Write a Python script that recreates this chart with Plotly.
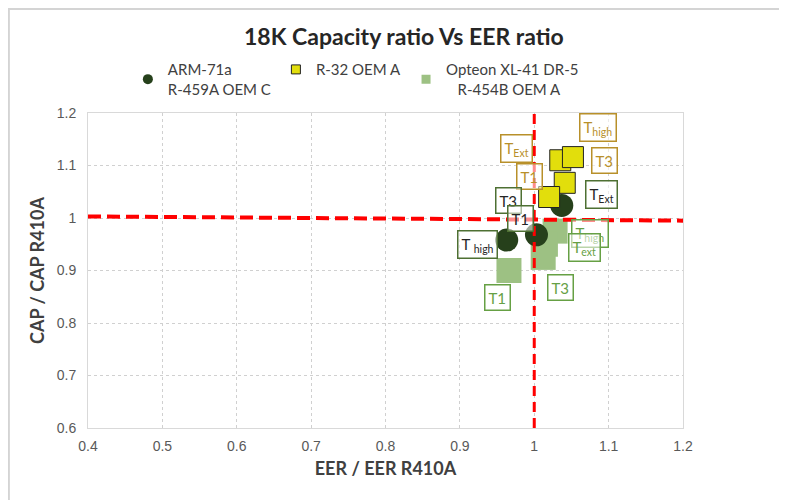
import plotly.graph_objects as go

# ARM-71a / R-459A OEM C
arm_x = [0.963, 1.003, 1.037]
arm_y = [0.958, 0.968, 1.024]

# R-32 OEM A
r32_x = [1.035, 1.052, 1.041, 1.020]
r32_y = [1.110, 1.116, 1.067, 1.040]

# Opteon XL-41 DR-5 / R-454B OEM A
xl41_x = [1.028, 1.015, 1.012, 0.966]
xl41_y = [0.975, 0.950, 0.925, 0.900]

# point labels (text, x, y)
r32_lbl = ["T<sub>high</sub>", "T<sub>Ext</sub>", "T3", "T1"]
r32_lbl_x = [1.086, 0.976, 1.094, 0.994]
r32_lbl_y = [1.173, 1.133, 1.110, 1.080]

arm_lbl = ["T3", "T1", "T <sub>high</sub>", "T<sub>Ext</sub>"]
arm_lbl_x = [0.965, 0.981, 0.924, 1.091]
arm_lbl_y = [1.034, 1.000, 0.950, 1.044]

xl41_lbl = ["T<sub>high</sub>", "T<sub>ext</sub>", "T3", "T1"]
xl41_lbl_x = [1.075, 1.068, 1.035, 0.950]
xl41_lbl_y = [0.971, 0.943, 0.867, 0.848]

# reference lines
href_x = [0.4, 1.2]
href_y = [1.003, 0.995]
vref_x = [1.0, 1.0]
vref_y = [0.6, 1.2]

x_ticks = [0.4, 0.5, 0.6, 0.7, 0.8, 0.9, 1.0, 1.1, 1.2]
y_ticks = [0.6, 0.7, 0.8, 0.9, 1.0, 1.1, 1.2]

dark_green = "#26401B"
yellow = "#E2DE0C"
light_green = "#9DC183"
gold = "#B8902A"
mid_green = "#4E7033"
soft_green = "#66A044"

fig = go.Figure()

fig.add_trace(go.Scatter(
    x=xl41_x, y=xl41_y, mode="markers", showlegend=False,
    marker=dict(symbol="square", size=25, color=light_green, line=dict(width=0)),
))
fig.add_trace(go.Scatter(
    x=arm_x, y=arm_y, mode="markers", showlegend=False,
    marker=dict(symbol="circle", size=23, color=dark_green, line=dict(width=0)),
))
fig.add_trace(go.Scatter(
    x=r32_x, y=r32_y, mode="markers", showlegend=False,
    marker=dict(symbol="square", size=21, color=yellow, line=dict(color="#222222", width=1)),
))

# red reference lines
fig.add_trace(go.Scatter(
    x=href_x, y=href_y, mode="lines", showlegend=False, hoverinfo="skip",
    line=dict(color="#FF0000", width=4, dash="13px,6px"),
))
fig.add_trace(go.Scatter(
    x=vref_x, y=vref_y, mode="lines", showlegend=False, hoverinfo="skip",
    line=dict(color="#FF0000", width=3, dash="10px,6px"),
))

# legend-only traces (small symbols)
fig.add_trace(go.Scatter(
    x=[None], y=[None], mode="markers", name="ARM-71a<br>R-459A OEM C",
    marker=dict(symbol="circle", size=10, color=dark_green),
))
fig.add_trace(go.Scatter(
    x=[None], y=[None], mode="markers", name="R-32 OEM A",
    marker=dict(symbol="square", size=9, color=yellow, line=dict(color="#222222", width=1)),
))
fig.add_trace(go.Scatter(
    x=[None], y=[None], mode="markers",
    name="Opteon XL-41 DR-5<br>   R-454B OEM A",
    marker=dict(symbol="square", size=9, color=light_green),
))

annotations = []
groups = [
    (r32_lbl, r32_lbl_x, r32_lbl_y, gold, gold),
    (arm_lbl, arm_lbl_x, arm_lbl_y, "#262626", mid_green),
    (xl41_lbl, xl41_lbl_x, xl41_lbl_y, soft_green, soft_green),
]
for labels, xs, ys, tcol, bcol in groups:
    for t, x, y in zip(labels, xs, ys):
        annotations.append(dict(
            x=x, y=y, xref="x", yref="y", text=t, showarrow=False,
            font=dict(family="Lato", size=15, color=tcol),
            bordercolor=bcol, borderwidth=1.5, borderpad=3,
            bgcolor="rgba(255,255,255,0.55)",
        ))

fig.update_layout(
    width=787, height=500,
    margin=dict(l=80, r=112, t=105, b=80),
    paper_bgcolor="white", plot_bgcolor="white",
    title=dict(
        text="<b>18K Capacity ratio Vs EER ratio</b>",
        x=0.503, xanchor="center", y=0.942, yanchor="middle",
        font=dict(family="Lato", size=23, color="#262626"),
    ),
    font=dict(family="Lato", color="#404040"),
    legend=dict(
        orientation="h", x=0.067, xanchor="left", y=1.19, yanchor="top",
        font=dict(family="Lato", size=15, color="#404040"),
        itemwidth=30, bgcolor="rgba(0,0,0,0)",
    ),
    xaxis=dict(
        range=[0.4, 1.2], tickvals=x_ticks, ticktext=[f"{v:g}" for v in x_ticks],
        showgrid=True, gridcolor="#D0D0D0", griddash="dot", gridwidth=1,
        zeroline=False, showline=True, linecolor="#D9D9D9", linewidth=1, mirror=True,
        ticks="", ticklabelstandoff=5,
        tickfont=dict(family="Liberation Sans", size=14, color="#595959"),
        title=dict(text="EER / EER R410A", standoff=9,
                   font=dict(family="Lato", size=18, color="#404040", weight="bold")),
    ),
    yaxis=dict(
        range=[0.6, 1.2], tickvals=y_ticks, ticktext=[f"{v:g}" for v in y_ticks],
        showgrid=True, gridcolor="#D0D0D0", griddash="dot", gridwidth=1,
        zeroline=False, showline=True, linecolor="#D9D9D9", linewidth=1, mirror=True,
        ticks="", ticklabelstandoff=8,
        tickfont=dict(family="Liberation Sans", size=14, color="#595959"),
        title=dict(text="CAP / CAP R410A", standoff=7,
                   font=dict(family="Lato", size=18, color="#404040", weight="bold")),
    ),
    annotations=annotations,
    shapes=[
        dict(type="rect", xref="paper", yref="paper",
             x0=-0.133, x1=1.3, y0=-0.3, y1=1.330,
             line=dict(color="#D4D4D4", width=2), fillcolor="rgba(0,0,0,0)", layer="below"),
    ],
)

fig.write_html("out.html")
